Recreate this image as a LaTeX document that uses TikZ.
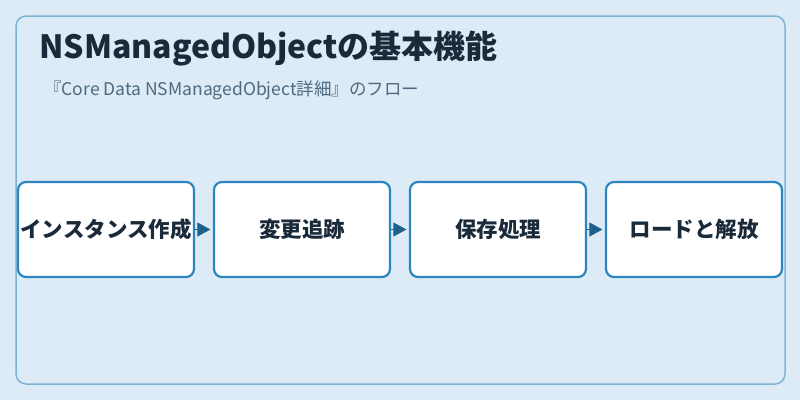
\documentclass[tikz,border=0pt]{standalone}
\usepackage{fontspec}
\setmainfont{Noto Sans CJK JP}
\usetikzlibrary{positioning,arrows.meta}
\definecolor{bg}{HTML}{DDEBF7}
\definecolor{frame}{HTML}{7FB3D5}
\definecolor{boxline}{HTML}{2E86C1}
\definecolor{arrowc}{HTML}{1F618D}
\definecolor{titlec}{HTML}{1B2A3A}
\definecolor{subc}{HTML}{4D6A80}
\tikzset{
  stepbox/.style={draw=boxline,line width=2.2pt,fill=white,rounded corners=8pt,
    minimum width=176pt,minimum height=95pt,inner sep=0pt,
    font=\fontsize{21.5}{26}\selectfont\bfseries,text=titlec},
  flow/.style={draw=arrowc,line width=1pt,-{Triangle[length=13pt,width=14pt]},shorten >=2.5pt}
}
\begin{document}
\begin{tikzpicture}[x=1pt,y=-1pt]
	\fill[bg] (0,0) rectangle (800,400);
	\draw[frame,line width=1.5pt,rounded corners=10pt] (16,16) rectangle (785,384);
	\node[anchor=base west,inner sep=0pt,text=titlec,font=\fontsize{32}{38}\selectfont\bfseries] (title) at (39,58) {NSManagedObjectの基本機能};
	\node[anchor=base west,inner sep=0pt,text=subc,font=\fontsize{17.5}{21}\selectfont] (sub) at (44,95) {『Core Data NSManagedObject詳細』のフロー};
	\node[stepbox] (s1) at (106,229.5) {インスタンス作成};
	\node[stepbox,right=17.8pt of s1] (s2) {変更追跡};
	\node[stepbox,right=17.8pt of s2] (s3) {保存処理};
	\node[stepbox,right=17.8pt of s3] (s4) {ロードと解放};
	\foreach \a/\b in {s1/s2,s2/s3,s3/s4}
		\draw[flow] (\a) -- (\b);
\end{tikzpicture}
\end{document}
